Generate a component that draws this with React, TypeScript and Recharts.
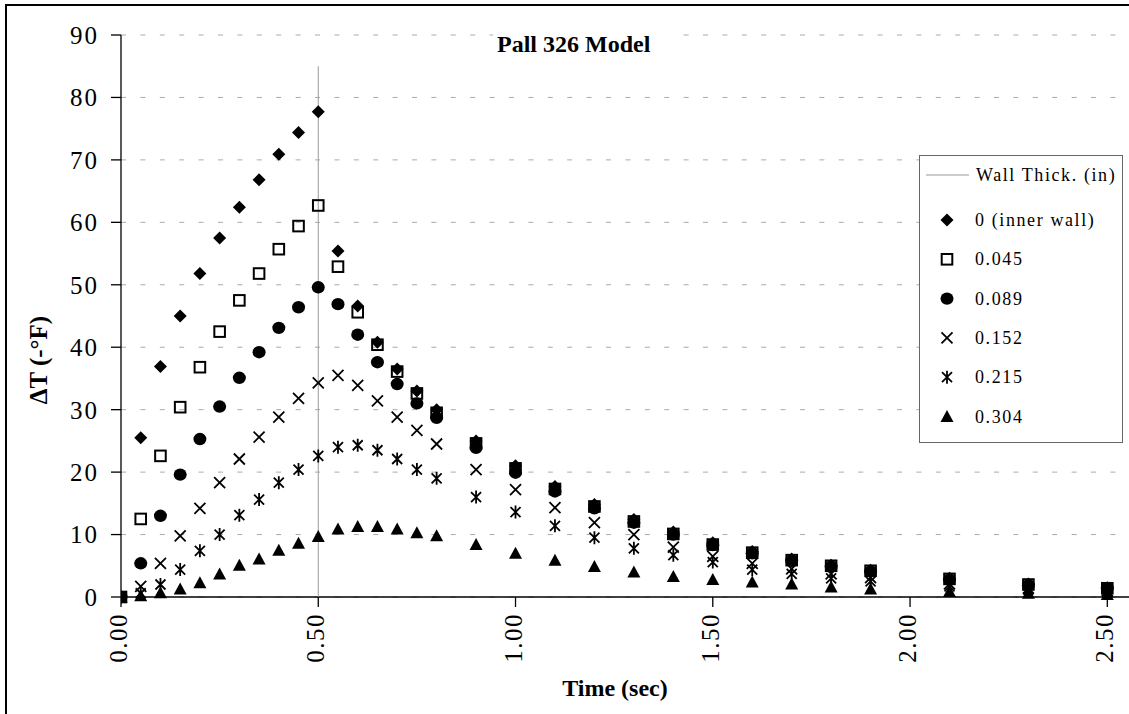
import React from "react";
import { ScatterChart, Scatter, XAxis, YAxis, CartesianGrid, Legend, Label } from "recharts";

const times = [
  0, 0.05, 0.1, 0.15, 0.2, 0.25, 0.3, 0.35, 0.4, 0.45, 0.5, 0.55, 0.6, 0.65, 0.7, 0.75, 0.8,
  0.9, 1.0, 1.1, 1.2, 1.3, 1.4, 1.5, 1.6, 1.7, 1.8, 1.9, 2.1, 2.3, 2.5,
];
const innerWall = [
  0, 25.5, 36.9, 45.0, 51.8, 57.5, 62.4, 66.8, 70.9, 74.4, 77.7, 55.4, 46.6, 40.8, 36.5, 33.0, 30.0,
  25.0, 21.0, 17.7, 14.8, 12.4, 10.4, 8.7, 7.3, 6.1, 5.1, 4.3, 3.0, 2.1, 1.5,
];
const wall045 = [
  0, 12.5, 22.6, 30.4, 36.8, 42.5, 47.5, 51.8, 55.7, 59.4, 62.7, 52.9, 45.6, 40.4, 36.1, 32.6, 29.5,
  24.6, 20.6, 17.3, 14.5, 12.1, 10.1, 8.4, 7.1, 5.9, 5.0, 4.2, 2.9, 2.0, 1.4,
];
const wall089 = [
  0, 5.4, 13.0, 19.6, 25.3, 30.5, 35.1, 39.2, 43.1, 46.4, 49.6, 46.9, 42.0, 37.6, 34.1, 31.0, 28.7,
  23.9, 19.9, 16.9, 14.2, 11.9, 10.0, 8.3, 7.0, 5.8, 4.9, 4.1, 2.8, 1.9, 1.4,
];
const wall152 = [
  0, 1.7, 5.4, 9.8, 14.2, 18.3, 22.1, 25.6, 28.8, 31.8, 34.3, 35.5, 33.9, 31.4, 28.8, 26.7, 24.5,
  20.4, 17.2, 14.3, 11.9, 10.0, 8.0, 6.5, 5.4, 4.5, 3.7, 3.1, 2.1, 1.4, 1.0,
];
const wall215 = [
  0, 0.6, 2.0, 4.4, 7.4, 10.0, 13.1, 15.6, 18.3, 20.4, 22.6, 24.0, 24.3, 23.5, 22.1, 20.4, 19.0,
  16.0, 13.6, 11.4, 9.5, 7.8, 6.7, 5.6, 4.4, 3.7, 3.0, 2.5, 1.7, 1.2, 0.8,
];
const wall304 = [
  0, 0.2, 0.7, 1.3, 2.3, 3.7, 5.1, 6.1, 7.5, 8.6, 9.7, 10.9, 11.3, 11.3, 10.9, 10.3, 9.8,
  8.4, 7.0, 5.9, 4.9, 4.0, 3.3, 2.8, 2.4, 2.1, 1.6, 1.3, 0.9, 0.6, 0.4,
];
const wallLineX = [0.5, 0.5];
const wallLineY = [0, 85];
const xTicks = [0, 0.5, 1, 1.5, 2, 2.5];
const yTicks = [0, 10, 20, 30, 40, 50, 60, 70, 80, 90];

type Kind = "diamond" | "square" | "circle" | "cross" | "star" | "triangle";

const series: { name: string; values: number[]; kind: Kind }[] = [
  { name: "0 (inner wall)", values: innerWall, kind: "diamond" },
  { name: "0.045", values: wall045, kind: "square" },
  { name: "0.089", values: wall089, kind: "circle" },
  { name: "0.152", values: wall152, kind: "cross" },
  { name: "0.215", values: wall215, kind: "star" },
  { name: "0.304", values: wall304, kind: "triangle" },
];

const toPoints = (xs: number[], ys: number[]) => xs.map((x, i) => ({ x, y: ys[i] }));
const wallLine = toPoints(wallLineX, wallLineY);

const FONT = '"Liberation Serif", "Times New Roman", serif';

function Marker({ kind, cx, cy }: { kind: Kind; cx: number; cy: number }) {
  switch (kind) {
    case "diamond":
      return <polygon points={`${cx},${cy - 6.5} ${cx + 6.5},${cy} ${cx},${cy + 6.5} ${cx - 6.5},${cy}`} fill="#000" />;
    case "square":
      return <rect x={cx - 5.3} y={cy - 5.3} width={10.6} height={10.6} fill="none" stroke="#000" strokeWidth={2} />;
    case "circle":
      return <ellipse cx={cx} cy={cy} rx={6.5} ry={6.2} fill="#000" />;
    case "cross":
      return (
        <path
          d={`M${cx - 5.5},${cy - 5.5}L${cx + 5.5},${cy + 5.5}M${cx + 5.5},${cy - 5.5}L${cx - 5.5},${cy + 5.5}`}
          stroke="#000"
          strokeWidth={1.8}
        />
      );
    case "star":
      return (
        <path
          d={`M${cx - 5},${cy - 5}L${cx + 5},${cy + 5}M${cx + 5},${cy - 5}L${cx - 5},${cy + 5}M${cx},${cy - 6.5}L${cx},${cy + 6.5}`}
          stroke="#000"
          strokeWidth={1.8}
        />
      );
    default:
      return <polygon points={`${cx},${cy - 6.5} ${cx + 6.5},${cy + 5.5} ${cx - 6.5},${cy + 5.5}`} fill="#000" />;
  }
}

const XTick = (props: any) => {
  const { x, y, payload } = props;
  return (
    <text
      transform={`translate(${x + 6},${y + 4}) rotate(-90)`}
      textAnchor="end"
      fontSize={25}
      letterSpacing={1.5}
      fill="#000"
      fontFamily={FONT}
    >
      {Number(payload.value).toFixed(2)}
    </text>
  );
};

const renderLegend = () => (
  <div
    style={{
      width: 204,
      height: 288,
      border: "1.5px solid #666",
      background: "#fff",
      boxSizing: "border-box",
    }}
  >
    <svg width={201} height={285} style={{ display: "block", fontFamily: FONT }}>
      <line x1={6} x2={49} y1={19} y2={19} stroke="#999" strokeWidth={1} />
      <text x={56} y={25} fontSize={18} letterSpacing={1.6} fill="#000">
        Wall Thick. (in)
      </text>
      {series.map((s, i) => (
        <g key={s.name}>
          <Marker kind={s.kind} cx={27} cy={64 + i * 39.3} />
          <text x={55} y={70 + i * 39.3} fontSize={18} letterSpacing={1.6} fill="#000">
            {s.name}
          </text>
        </g>
      ))}
    </svg>
  </div>
);

export default function App() {
  return (
    <div style={{ position: "fixed", left: 0, top: 0, width: 1129, height: 714, overflow: "hidden", background: "#fff" }}>
      <div
        style={{
          position: "absolute",
          left: 5,
          top: 4,
          width: 2000,
          height: 2000,
          border: "2px solid #000",
        }}
      />
      <div style={{ position: "absolute", left: 0, top: 0 }}>
        <ScatterChart width={1129} height={714} margin={{ top: 35, right: 0, bottom: 0, left: 0 }} style={{ fontFamily: FONT }}>
          <CartesianGrid vertical={false} stroke="#aaa" strokeDasharray="5 14.4" />
          <XAxis
            type="number"
            dataKey="x"
            domain={[0, 2.555]}
            ticks={xTicks}
            height={117}
            tickSize={10}
            tick={<XTick />}
            stroke="#000"
            strokeWidth={1.3}
            allowDataOverflow
          >
            <Label
              content={() => (
                <text x={615} y={696} textAnchor="middle" fontSize={24} fontWeight="bold" fontFamily={FONT} fill="#000">
                  Time (sec)
                </text>
              )}
            />
          </XAxis>
          <YAxis
            type="number"
            dataKey="y"
            domain={[0, 90]}
            ticks={yTicks}
            width={121}
            tickSize={10}
            tickMargin={12}
            stroke="#000"
            strokeWidth={1.3}
            tick={{ fill: "#000", fontSize: 25, letterSpacing: 2 }}
          >
            <Label
              content={() => (
                <text
                  transform="translate(47,360) rotate(-90)"
                  textAnchor="middle"
                  fontSize={25}
                  fontWeight="bold"
                  fontFamily={FONT}
                  fill="#000"
                >
                  ΔT (-°F)
                </text>
              )}
            />
          </YAxis>
          <Legend
            layout="horizontal"
            verticalAlign="middle"
            align="center"
            content={renderLegend}
            wrapperStyle={{ left: 919, top: 155, width: 204, height: 288 }}
          />
          <Scatter
            name="Wall Thick. (in)"
            data={wallLine}
            line={{ stroke: "#999", strokeWidth: 1 }}
            shape={() => <g />}
            isAnimationActive={false}
          />
          {series.map((s) => (
            <Scatter
              key={s.name}
              name={s.name}
              data={toPoints(times, s.values)}
              shape={(p: any) => <Marker kind={s.kind} cx={p.cx} cy={p.cy} />}
              isAnimationActive={false}
            />
          ))}
        </ScatterChart>
      </div>
      <div
        style={{
          position: "absolute",
          left: 493,
          top: 24,
          width: 190,
          height: 40,
          background: "#fff",
          fontFamily: FONT,
          fontWeight: "bold",
          fontSize: 24,
          lineHeight: "40px",
          paddingLeft: 4,
          boxSizing: "border-box",
          color: "#000",
        }}
      >
        Pall 326 Model
      </div>
    </div>
  );
}
